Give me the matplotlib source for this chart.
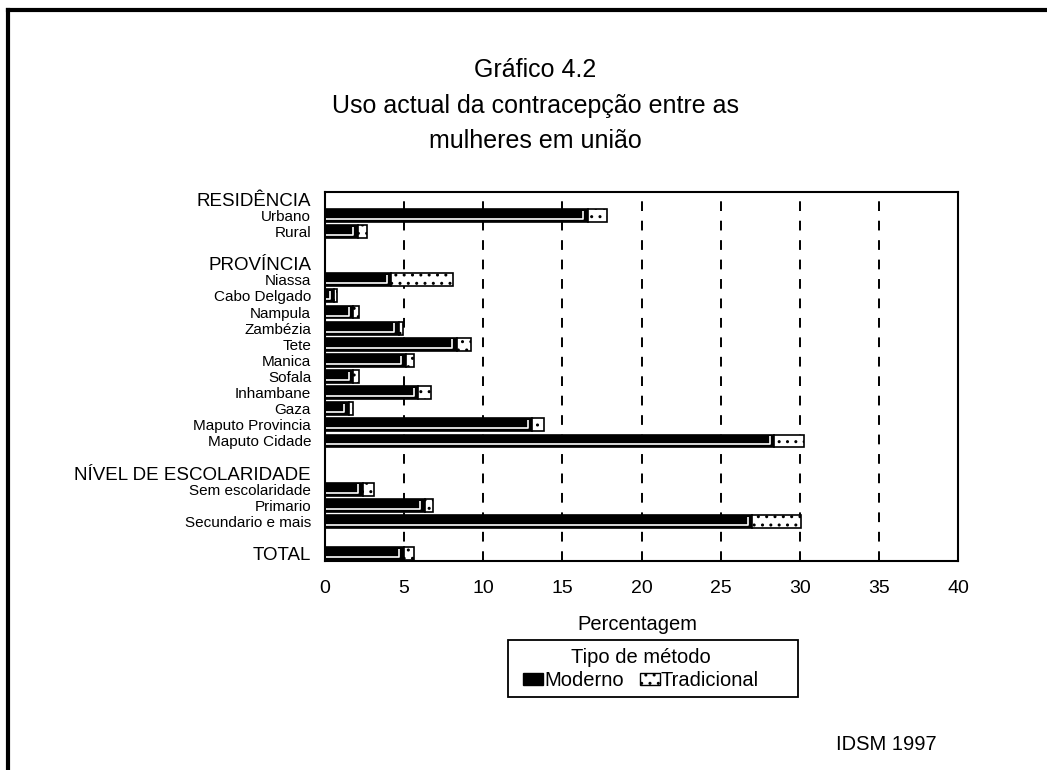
import matplotlib
matplotlib.use("Agg")
import matplotlib.pyplot as plt
from matplotlib.patches import Patch, Rectangle
import numpy as np

plt.rcParams['font.family'] = ['Liberation Sans', 'DejaVu Sans']
plt.rcParams['hatch.linewidth'] = 1.0

labels = ["RESIDÊNCIA", "Urbano", "Rural", "",
          "PROVÍNCIA", "Niassa", "Cabo Delgado", "Nampula", "Zambézia", "Tete",
          "Manica", "Sofala", "Inhambane", "Gaza", "Maputo Provincia", "Maputo Cidade", "",
          "NÍVEL DE ESCOLARIDADE", "Sem escolaridade", "Primario", "Secundario e mais", "",
          "TOTAL"]
moderno = [None, 16.6, 2.1, None,
           None, 4.2, 0.6, 1.8, 4.65, 8.35, 5.1, 1.8, 5.9, 1.5, 13.1, 28.4, None,
           None, 2.4, 6.3, 27.0, None,
           5.0]
tradicional = [None, 1.2, 0.55, None,
               None, 3.9, 0.15, 0.35, 0.25, 0.9, 0.5, 0.35, 0.8, 0.25, 0.75, 1.85, None,
               None, 0.7, 0.55, 3.1, None,
               0.65]
xticks = [0, 5, 10, 15, 20, 25, 30, 35, 40]

W, H = 1047, 770
fig = plt.figure(figsize=(W / 100, H / 100), dpi=100)
ax = fig.add_axes([325 / W, 1 - 561 / H, (958 - 325) / W, (561 - 192) / H])

rows = np.arange(len(labels))
bh = 0.8
for i, (m, t) in enumerate(zip(moderno, tradicional)):
    if m is None:
        continue
    ax.barh(i, m, height=bh, color='black', edgecolor='black', linewidth=1.2, zorder=3)
    ax.barh(i, t, left=m, height=bh, color='white', edgecolor='black',
            hatch='..', linewidth=1.2, zorder=3)
    # white embossed stripe inside the modern bar
    xr = max(m - 0.3, 0.1)
    ax.plot([0.05, xr, xr], [i + 0.22, i + 0.22, i - 0.3], color='white', lw=1.2,
            zorder=4, solid_capstyle='butt')

for x in xticks[1:-1]:
    ax.axvline(x, color='black', lw=1.4, linestyle=(0, (5, 5)), zorder=1)

ax.set_xlim(0, 40)
ax.set_ylim(22.45, -0.45)
ax.set_xticks(xticks)
ax.set_xticklabels([str(v) for v in xticks], fontsize=14)
ax.set_yticks(rows)
ax.set_yticklabels(labels, fontsize=11)
for lab in ax.get_yticklabels():
    if lab.get_text().isupper():
        lab.set_fontsize(13.5)
ax.tick_params(axis='both', length=0)
ax.tick_params(axis='y', pad=10)
ax.tick_params(axis='x', pad=14)
for s in ax.spines.values():
    s.set_linewidth(1.5)
    s.set_color('black')

ax.set_xlabel("Percentagem", fontsize=14.5)
ax.xaxis.set_label_coords((637 - 325) / (958 - 325), -(615 - 561) / (561 - 192))

fig.text(535 / W, 1 - 70 / H, "Gráfico 4.2", ha='center', va='center', fontsize=18)
fig.text(535 / W, 1 - 106 / H, "Uso actual da contracepção entre as", ha='center', va='center', fontsize=18)
fig.text(535 / W, 1 - 141 / H, "mulheres em união", ha='center', va='center', fontsize=18)

# legend frame
fig.add_artist(Rectangle((508 / W, 1 - 697 / H), 290 / W, 57 / H, transform=fig.transFigure,
                         facecolor='none', edgecolor='black', lw=1.3))
handles = [Patch(facecolor='black', edgecolor='black', label='Moderno'),
           Patch(facecolor='white', edgecolor='black', hatch='..', label='Tradicional')]
leg = fig.legend(handles=handles, loc='center', bbox_to_anchor=(641 / W, 1 - 669 / H),
                 ncol=2, title="Tipo de método", fontsize=14.5, title_fontsize=14.5,
                 frameon=False, handlelength=1.0,
                 handleheight=0.6, handletextpad=0.05, columnspacing=0.8, borderpad=0.2,
                 borderaxespad=0, labelspacing=0.2)

fig.text(886 / W, 1 - 745 / H, "IDSM 1997", ha='center', va='center', fontsize=14.5)

# outer frame (top and left)
fig.add_artist(plt.Line2D([8 / W, 8 / W], [0, 1 - 10 / H], color='black', lw=3,
                          transform=fig.transFigure))
fig.add_artist(plt.Line2D([8 / W, 1], [1 - 10 / H, 1 - 10 / H], color='black', lw=3,
                          transform=fig.transFigure))

fig.savefig("out.png", dpi=100)
